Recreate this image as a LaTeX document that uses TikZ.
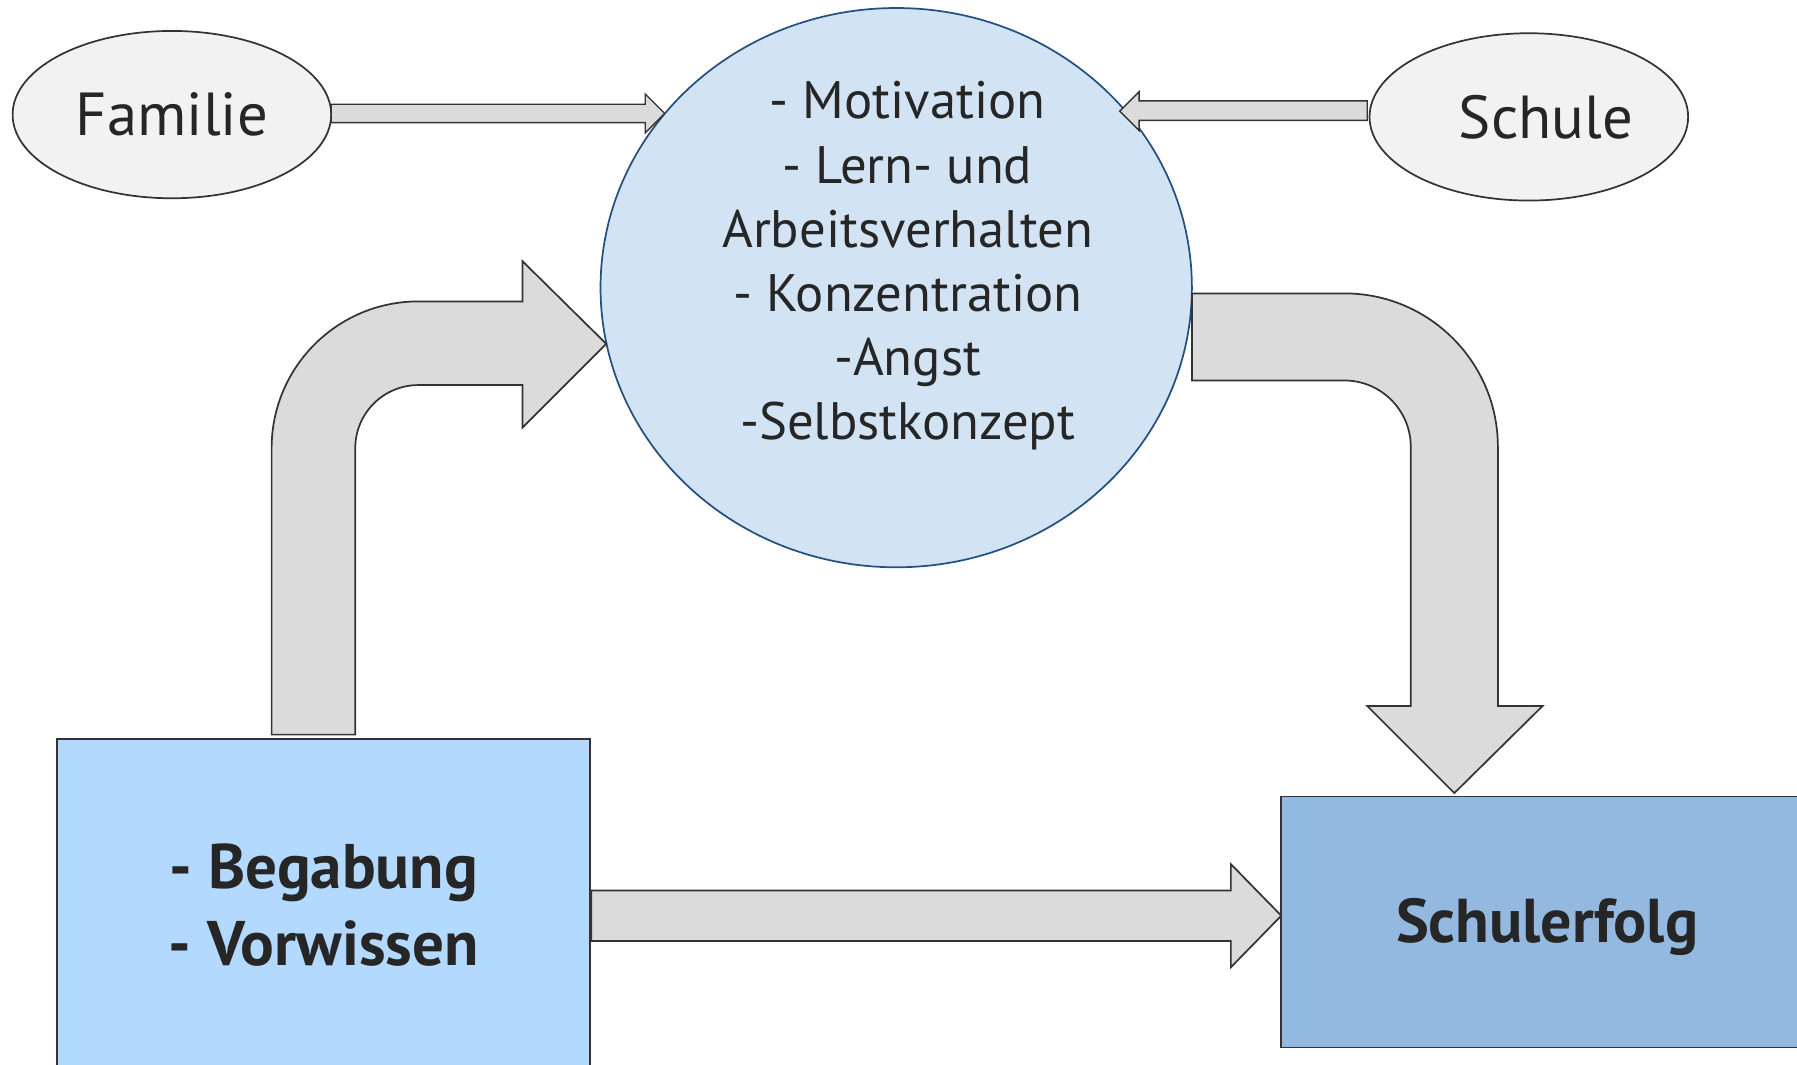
\documentclass[tikz,border=0pt]{standalone}
\usepackage{fontspec}
\setmainfont{PT Sans}
\usetikzlibrary{shapes.geometric}
\definecolor{strokegray}{HTML}{333333}
\definecolor{ovalfill}{HTML}{F2F2F2}
\definecolor{arrowfill}{HTML}{DBDBDB}
\definecolor{circfill}{HTML}{D2E3F3}
\definecolor{circline}{HTML}{24507F}
\definecolor{begafill}{HTML}{B3DAFE}
\definecolor{erfolgfill}{HTML}{94B9E0}
\definecolor{textdark}{HTML}{262626}
\tikzset{
  oval/.style={ellipse, draw=strokegray, fill=ovalfill, line width=1.5pt, inner sep=0pt,
    minimum width=278pt, minimum height=146pt},
  bigcirc/.style={ellipse, draw=circline, fill=circfill, line width=1.5pt, inner sep=0pt,
    minimum width=516pt, minimum height=488pt},
  boxnode/.style={rectangle, draw=strokegray, line width=1.5pt, inner sep=0pt,
    align=center, text=textdark, font=\bfseries\fontsize{55}{67}\selectfont},
  ovaltext/.style={text=textdark, font=\fontsize{53}{60}\selectfont, inner sep=0pt},
  circtext/.style={text=textdark, align=center, font=\fontsize{46}{56}\selectfont, inner sep=0pt},
  blockarrow/.style={draw=strokegray, fill=arrowfill, line width=1.5pt, line join=miter},
  thinarrow/.style={draw=strokegray, fill=arrowfill, line width=1.2pt, line join=miter}
}
\begin{document}
\begin{tikzpicture}[x=1pt,y=-1pt]
\clip (0,0) rectangle (1568,929);
\fill[white] (0,0) rectangle (1568,929);

% shapes
\node[oval] (fam) at (150,100) {};
\node[oval] (schule) at (1334,102) {};
\node[bigcirc] (circ) at (782,251) {};
\node[boxnode, fill=begafill, minimum width=465pt, minimum height=290pt]
  (bega) at (282.5,790) {- Begabung\\- Vorwissen};
\node[boxnode, fill=erfolgfill, minimum width=464pt, minimum height=219pt]
  (erfolg) at (1350,804.5) {};

% texts
\node[ovaltext] (famtext) at (fam.center) {Familie};
\node[ovaltext] (schuletext) at (1349,102) {Schule};
\node[circtext] (circlabel) at (792,232)
  {- Motivation\\- Lern- und\\Arbeitsverhalten\\- Konzentration\\-Angst\\-Selbstkonzept};
\node[text=textdark, inner sep=0pt, font=\bfseries\fontsize{54}{67}\selectfont]
  (erfolgtext) at (1350,809) {Schulerfolg};

% Familie -> circle
\draw[thinarrow] (289,91) -- (563,91) -- (563,82) -- (580,99) -- (563,116) -- (563,107) -- (289,107) -- cycle;
% Schule -> circle
\draw[thinarrow] (1193,88) -- (994,88) -- (994,80) -- (977,97) -- (994,114) -- (994,105) -- (1193,105) -- cycle;

% Begabung -> circle (bent)
\draw[blockarrow] (237,641) -- (237,391) arc[start angle=180, end angle=270, radius=128]
  -- (456,263) -- (456,228) -- (529,300) -- (456,373) -- (456,336) -- (365,336)
  arc[start angle=270, end angle=180, radius=55] -- (310,641) -- cycle;

% circle -> Schulerfolg (bent)
\draw[blockarrow] (1040,256) -- (1173,256) arc[start angle=270, end angle=360, radius=134]
  -- (1307,616) -- (1346,616) -- (1269,692) -- (1193,616) -- (1231,616) -- (1231,390)
  arc[start angle=0, end angle=-90, radius=58] -- (1040,332) -- cycle;

% Begabung -> Schulerfolg
\draw[blockarrow] (516,777) -- (1074,777) -- (1074,754) -- (1118,799) -- (1074,844) -- (1074,821) -- (516,821) -- cycle;
\end{tikzpicture}
\end{document}
